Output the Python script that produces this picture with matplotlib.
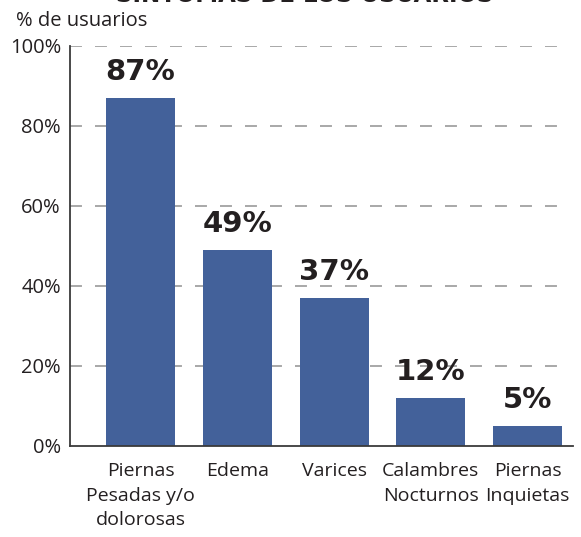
import matplotlib
matplotlib.use('Agg')
import matplotlib.pyplot as plt

categories = ['Piernas\nPesadas y/o\ndolorosas', 'Edema', 'Varices',
              'Calambres\nNocturnos', 'Piernas\nInquietas']
values = [87, 49, 37, 12, 5]
bar_labels = ['87%', '49%', '37%', '12%', '5%']
y_ticks = [0, 20, 40, 60, 80, 100]
y_tick_labels = ['0%', '20%', '40%', '60%', '80%', '100%']

plt.rcParams['font.family'] = ['Open Sans', 'DejaVu Sans']
plt.rcParams['lines.scale_dashes'] = False
text_color = '#231f20'
bold_family = ['DejaVu Sans']

fig = plt.figure(figsize=(5.81, 5.37), dpi=100)
ax = fig.add_axes([70 / 581, 1 - 445.7 / 537, (573 - 70) / 581, 400 / 537])

x = list(range(len(values)))
ax.bar(x, values, width=0.713, color='#43619a', zorder=2)
ax.set_xlim(-0.729, 4.47)
ax.set_ylim(0, 100)

# dashed grid, stops a bit before the end of the x axis
for yv in y_ticks[1:]:
    ax.axhline(yv, xmin=0, xmax=0.974, color='#999999', lw=1.2,
               linestyle=(0, (8.6, 9.4)), zorder=1)

for xi, v, lab in zip(x, values, bar_labels):
    ax.annotate(lab, (xi, v), xytext=(0, 12.5), textcoords='offset points',
                ha='center', va='baseline', fontsize=21, fontweight='bold',
                family=bold_family, color=text_color, zorder=3)

ax.set_yticks(y_ticks, y_tick_labels)
ax.set_xticks(x, categories)
ax.tick_params(axis='y', length=0, pad=6.5, labelsize=14.5, labelcolor=text_color)
ax.tick_params(axis='x', length=0, pad=12, labelsize=14, labelcolor=text_color)
for lab in ax.get_xticklabels():
    lab.set_linespacing(1.45)

for side in ['top', 'right']:
    ax.spines[side].set_visible(False)
for side in ['left', 'bottom']:
    ax.spines[side].set_color('#3a3a3a')
    ax.spines[side].set_linewidth(1.3)

fig.text(16 / 581, 1 - 26 / 537, '% de usuarios', ha='left', va='baseline',
         fontsize=14.5, color=text_color)
# title is cut off at the top of the original image
fig.text(305 / 581, 1 - 2 / 537, 'SÍNTOMAS DE LOS USUARIOS', ha='center',
         va='baseline', fontsize=16.5, fontweight='bold',
         family=bold_family, color=text_color)

fig.savefig('out.png', dpi=100)
